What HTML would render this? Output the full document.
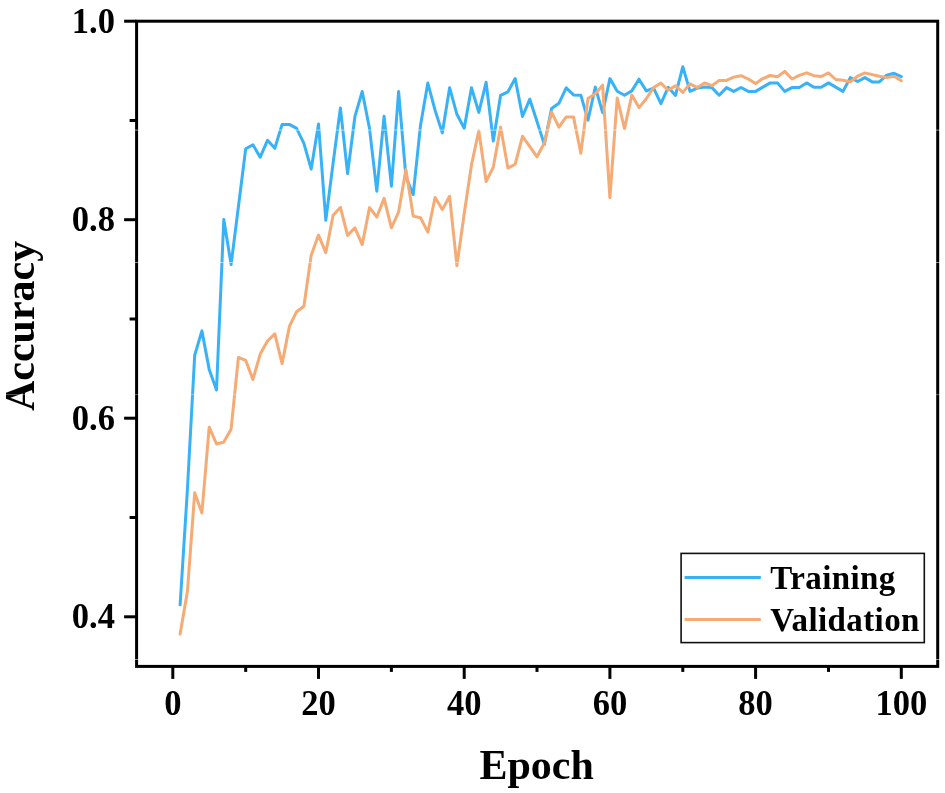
<!DOCTYPE html>
<html><head><meta charset="utf-8"><style>
html,body{margin:0;padding:0;background:#fff;}
body{width:945px;height:793px;overflow:hidden;}
svg{display:block;will-change:transform;}
.t{font-family:"Liberation Serif",serif;font-weight:bold;font-size:34.5px;fill:#000;}
.ax{font-family:"Liberation Serif",serif;font-weight:bold;font-size:42px;fill:#000;}
.lg{font-family:"Liberation Serif",serif;font-weight:bold;font-size:33px;fill:#000;letter-spacing:0.4px;}
</style></head><body>
<svg width="945" height="793" viewBox="0 0 945 793">
<polyline points="180.1,604.8 187.4,489.7 194.7,355.2 201.9,330.9 209.2,369.4 216.5,390.0 223.8,219.4 231.1,264.6 238.4,206.8 245.7,148.8 252.9,144.8 260.2,157.2 267.5,140.3 274.8,148.3 282.1,124.4 289.4,124.4 296.6,128.4 303.9,143.3 311.2,169.1 318.5,123.9 325.8,220.3 333.1,163.1 340.4,107.9 347.6,173.5 354.9,116.7 362.2,91.5 369.5,128.4 376.8,191.2 384.1,116.2 391.4,186.2 398.6,91.5 405.9,176.9 413.2,194.7 420.5,125.4 427.8,83.1 435.1,110.4 442.3,132.9 449.6,87.7 456.9,114.3 464.2,128.2 471.5,87.7 478.8,112.4 486.1,82.3 493.3,141.0 500.6,95.3 507.9,91.8 515.2,78.6 522.5,116.5 529.8,99.2 537.0,121.5 544.3,144.4 551.6,108.5 558.9,103.3 566.2,87.9 573.5,94.9 580.8,95.2 588.0,120.2 595.3,87.1 602.6,112.7 609.9,78.6 617.2,91.3 624.5,95.2 631.8,90.9 639.0,79.2 646.3,90.9 653.6,88.1 660.9,103.6 668.2,87.3 675.5,95.5 682.8,66.7 690.0,91.4 697.3,88.1 704.6,87.1 711.9,87.6 719.2,95.2 726.5,87.6 733.7,91.4 741.0,87.5 748.3,91.4 755.6,91.4 762.9,87.1 770.2,82.9 777.5,82.9 784.7,91.4 792.0,87.6 799.3,87.6 806.6,82.9 813.9,87.3 821.2,87.3 828.5,82.9 835.7,87.1 843.0,91.4 850.3,77.6 857.6,81.5 864.9,77.6 872.2,81.9 879.4,81.9 886.7,75.2 894.0,73.3 901.3,76.7" fill="none" stroke="#38B2F6" stroke-width="3" stroke-linejoin="round" stroke-linecap="round"/>
<polyline points="180.1,634.1 187.4,591.6 194.7,492.7 201.9,512.9 209.2,427.2 216.5,444.0 223.8,442.1 231.1,429.2 238.4,357.4 245.7,360.4 252.9,379.5 260.2,354.1 267.5,341.0 274.8,333.9 282.1,363.6 289.4,326.4 296.6,311.7 303.9,306.2 311.2,255.2 318.5,235.1 325.8,252.7 333.1,215.3 340.4,207.4 347.6,235.4 354.9,227.8 362.2,244.7 369.5,207.6 376.8,217.0 384.1,198.4 391.4,227.8 398.6,212.0 405.9,169.4 413.2,216.1 420.5,217.7 427.8,232.2 435.1,197.5 442.3,209.6 449.6,196.3 456.9,265.7 464.2,213.8 471.5,164.7 478.8,130.7 486.1,181.5 493.3,167.1 500.6,127.1 507.9,168.1 515.2,164.2 522.5,136.3 529.8,146.6 537.0,156.8 544.3,143.0 551.6,112.1 558.9,127.1 566.2,116.9 573.5,116.9 580.8,153.2 588.0,98.4 595.3,93.8 602.6,85.2 609.9,197.7 617.2,98.0 624.5,128.7 631.8,95.1 639.0,107.6 646.3,98.8 653.6,87.5 660.9,83.1 668.2,90.3 675.5,85.7 682.8,92.4 690.0,83.8 697.3,87.6 704.6,82.9 711.9,85.7 719.2,80.4 726.5,80.4 733.7,77.1 741.0,75.7 748.3,79.0 755.6,83.5 762.9,78.6 770.2,75.5 777.5,76.7 784.7,71.4 792.0,79.0 799.3,75.3 806.6,72.8 813.9,75.7 821.2,76.5 828.5,72.9 835.7,79.5 843.0,80.3 850.3,81.9 857.6,76.2 864.9,72.9 872.2,74.6 879.4,76.2 886.7,77.6 894.0,76.2 901.3,80.7" fill="none" stroke="#F6AA74" stroke-width="3" stroke-linejoin="round" stroke-linecap="round"/>
<rect x="136.6" y="21.2" width="801.1" height="645.1999999999999" fill="none" stroke="#000" stroke-width="3" stroke-linejoin="miter"/>
<line x1="124.1" y1="21.2" x2="136.6" y2="21.2" stroke="#000" stroke-width="3"/>
<text transform="translate(115,32.6) scale(1,1.03)" text-anchor="end" class="t">1.0</text>
<line x1="124.1" y1="219.7" x2="136.6" y2="219.7" stroke="#000" stroke-width="3"/>
<text transform="translate(115,231.1) scale(1,1.03)" text-anchor="end" class="t">0.8</text>
<line x1="124.1" y1="418.2" x2="136.6" y2="418.2" stroke="#000" stroke-width="3"/>
<text transform="translate(115,429.6) scale(1,1.03)" text-anchor="end" class="t">0.6</text>
<line x1="124.1" y1="616.8" x2="136.6" y2="616.8" stroke="#000" stroke-width="3"/>
<text transform="translate(115,628.2) scale(1,1.03)" text-anchor="end" class="t">0.4</text>
<line x1="129.6" y1="120.5" x2="136.6" y2="120.5" stroke="#000" stroke-width="3"/>
<line x1="129.6" y1="319.0" x2="136.6" y2="319.0" stroke="#000" stroke-width="3"/>
<line x1="129.6" y1="517.5" x2="136.6" y2="517.5" stroke="#000" stroke-width="3"/>
<line x1="172.8" y1="666.4" x2="172.8" y2="678.9" stroke="#000" stroke-width="3"/>
<text transform="translate(172.8,714.6) scale(1,1.03)" text-anchor="middle" class="t">0</text>
<line x1="318.5" y1="666.4" x2="318.5" y2="678.9" stroke="#000" stroke-width="3"/>
<text transform="translate(318.5,714.6) scale(1,1.03)" text-anchor="middle" class="t">20</text>
<line x1="464.2" y1="666.4" x2="464.2" y2="678.9" stroke="#000" stroke-width="3"/>
<text transform="translate(464.2,714.6) scale(1,1.03)" text-anchor="middle" class="t">40</text>
<line x1="609.9" y1="666.4" x2="609.9" y2="678.9" stroke="#000" stroke-width="3"/>
<text transform="translate(609.9,714.6) scale(1,1.03)" text-anchor="middle" class="t">60</text>
<line x1="755.6" y1="666.4" x2="755.6" y2="678.9" stroke="#000" stroke-width="3"/>
<text transform="translate(755.6,714.6) scale(1,1.03)" text-anchor="middle" class="t">80</text>
<line x1="901.3" y1="666.4" x2="901.3" y2="678.9" stroke="#000" stroke-width="3"/>
<text transform="translate(901.3,714.6) scale(1,1.03)" text-anchor="middle" class="t">100</text>
<line x1="245.7" y1="666.4" x2="245.7" y2="671.9" stroke="#000" stroke-width="3"/>
<line x1="391.4" y1="666.4" x2="391.4" y2="671.9" stroke="#000" stroke-width="3"/>
<line x1="537.0" y1="666.4" x2="537.0" y2="671.9" stroke="#000" stroke-width="3"/>
<line x1="682.8" y1="666.4" x2="682.8" y2="671.9" stroke="#000" stroke-width="3"/>
<line x1="828.5" y1="666.4" x2="828.5" y2="671.9" stroke="#000" stroke-width="3"/>
<text x="536.6" y="779" text-anchor="middle" class="ax">Epoch</text>
<text transform="translate(34,325.9) rotate(-90)" text-anchor="middle" class="ax">Accuracy</text>
<rect x="681.1" y="553.4" width="243.2" height="89.2" fill="#fff" stroke="#111" stroke-width="1.6"/>
<line x1="684.6" y1="577.4" x2="760.8" y2="577.4" stroke="#38B2F6" stroke-width="3"/>
<line x1="684.6" y1="619.4" x2="760.8" y2="619.4" stroke="#F6AA74" stroke-width="3"/>
<text x="770.3" y="588.5" class="lg">Training</text>
<text x="770.3" y="630.7" class="lg">Validation</text>
<rect x="0" y="129.6" width="945" height="1" fill="#fff" fill-opacity="0.55"/>
<rect x="0" y="262.0" width="945" height="1" fill="#fff" fill-opacity="0.5"/>
<rect x="0" y="394.1" width="945" height="1" fill="#fff" fill-opacity="0.35"/>
<rect x="0" y="659.0" width="945" height="1" fill="#fff" fill-opacity="0.55"/>
</svg>
</body></html>
